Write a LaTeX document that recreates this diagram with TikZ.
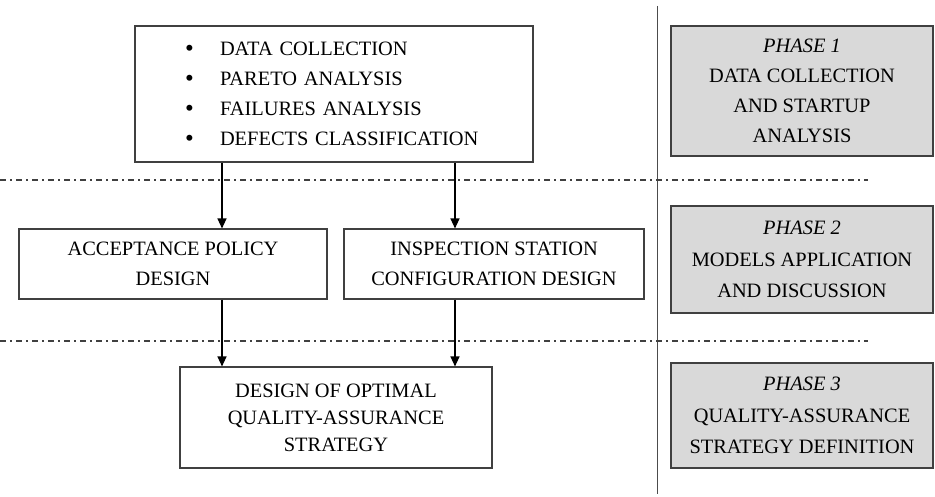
\documentclass[tikz,border=0pt]{standalone}
\usepackage{fontspec}
\setmainfont{Liberation Serif}
\usetikzlibrary{arrows.meta,positioning}

\tikzset{
  box/.style={draw=black!75, line width=1.1pt, fill=white, align=center, inner sep=0pt, font=\fontsize{20.4}{30}\selectfont},
  phase/.style={box, fill=black!15, minimum width=262pt},
  sep/.style={draw=black!75, line width=1.1pt, dash pattern=on 6pt off 4pt on 1.5pt off 4.5pt},
  arr/.style={draw, line width=1.3pt, -{Triangle[length=10pt,width=9pt]}},
}
\newcommand{\itm}[1]{\makebox[35pt][l]{\raisebox{-0.5pt}{\fontsize{25}{30}\selectfont\textbullet}}#1}

\begin{document}
\begin{tikzpicture}[x=1pt,y=-1pt]
  \useasboundingbox (0,0) rectangle (935,497);

  \node (T) [box, minimum width=398pt, minimum height=136pt, text width=298pt, align=left] at (334,94)
    {\itm{DATA COLLECTION}\\ \itm{PARETO ANALYSIS}\\ \itm{FAILURES ANALYSIS}\\ \itm{DEFECTS CLASSIFICATION}};
  \node (L) [box, minimum width=308pt, minimum height=70pt] at (173,264) {ACCEPTANCE POLICY\\ DESIGN};
  \node (R) [box, minimum width=300pt, minimum height=70pt] at (494,264) {INSPECTION STATION\\ CONFIGURATION DESIGN};
  \node (B) [box, minimum width=312pt, minimum height=101pt, font=\fontsize{20.4}{27}\selectfont] at (336,417.5) {DESIGN OF OPTIMAL\\ QUALITY-ASSURANCE\\ STRATEGY};

  \node (P1) [phase, minimum height=130pt] at (802,91) {\textit{PHASE 1}\\ DATA COLLECTION\\ AND STARTUP\\ ANALYSIS};
  \node (P2) [phase, minimum height=107pt, font=\fontsize{20.4}{31.5}\selectfont] at (802,259.5) {\textit{PHASE 2}\\ MODELS APPLICATION\\ AND DISCUSSION};
  \node (P3) [phase, minimum height=105pt, font=\fontsize{20.4}{31.5}\selectfont] at (802,415.5) {\textit{PHASE 3}\\ QUALITY-ASSURANCE\\ STRATEGY DEFINITION};

  \coordinate (p) at (222,0);
  \coordinate (q) at (455,0);
  \coordinate (s1) at (0,180);
  \coordinate (e1) at (868,180);
  \coordinate (s2) at (0,341);
  \coordinate (e2) at (868,341);
  \coordinate (v1) at (657,6);
  \coordinate (v2) at (657,494);

  \draw [line width=1pt, black!70] (v1) -- (v2);
  \draw [sep] (s1) -- (e1);
  \draw [sep] (s2) -- (e2);

  \draw [arr] (T.south -| p) -- (L.north -| p);
  \draw [arr] (T.south -| q) -- (R.north -| q);
  \draw [arr] (L.south -| p) -- (B.north -| p);
  \draw [arr] (R.south -| q) -- (B.north -| q);

\end{tikzpicture}
\end{document}
